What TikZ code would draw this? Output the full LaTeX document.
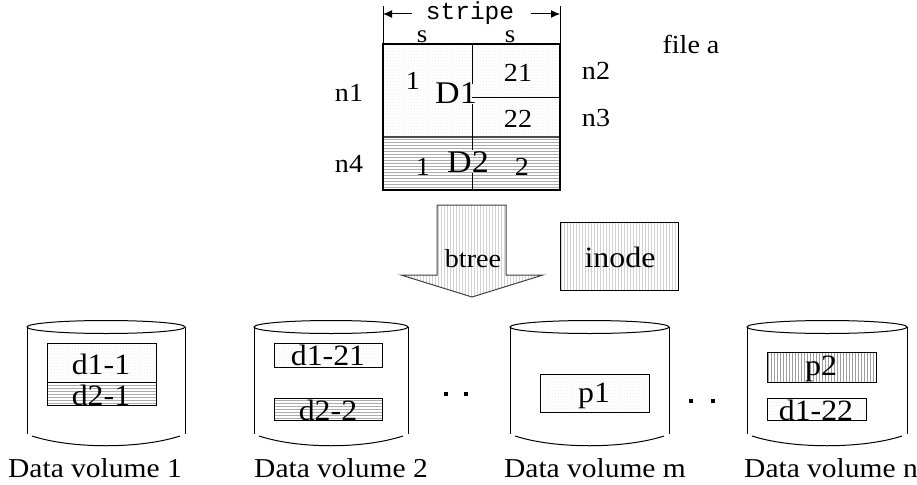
\documentclass[tikz,border=0pt]{standalone}
\usepackage{fontspec}
\setmainfont{Liberation Serif}[FakeStretch=1.08]
\setmonofont{Liberation Mono}
\usetikzlibrary{patterns,arrows.meta}

\pgfdeclarepatternformonly{fdots}{\pgfqpoint{-1pt}{-1pt}}{\pgfqpoint{2pt}{2pt}}{\pgfqpoint{3pt}{3pt}}%
{\pgfpathrectangle{\pgfqpoint{0pt}{0pt}}{\pgfqpoint{0.9pt}{0.9pt}}\pgfusepath{fill}}
\pgfdeclarepatternformonly{fhlines}{\pgfqpoint{-1pt}{-1pt}}{\pgfqpoint{4pt}{4pt}}{\pgfqpoint{3pt}{3pt}}%
{\pgfsetlinewidth{0.9pt}\pgfpathmoveto{\pgfqpoint{-1pt}{0pt}}\pgfpathlineto{\pgfqpoint{4pt}{0pt}}\pgfusepath{stroke}}
\pgfdeclarepatternformonly{fvlines}{\pgfqpoint{-1pt}{-1pt}}{\pgfqpoint{4pt}{4pt}}{\pgfqpoint{3pt}{3pt}}%
{\pgfsetlinewidth{0.9pt}\pgfpathmoveto{\pgfqpoint{0pt}{-1pt}}\pgfpathlineto{\pgfqpoint{0pt}{4pt}}\pgfusepath{stroke}}

\newcommand\drawdatavol[2]{%
  \pgfmathsetmacro\cylcx{(#1+#2)/2}%
  \pgfmathsetmacro\cylrx{(#2-#1)/2}%
  \draw[cylline] (\cylcx,327) ellipse [x radius=\cylrx, y radius=6.5];
  \draw[cylline] (#1,327) -- (#1,434);
  \draw[cylline] (#2,327) -- (#2,434);
  \draw[cylline] (#1+5,436) .. controls (#1+45,449) and (#2-45,449) .. (#2-5,436);
}

\tikzset{
  dotfill/.style={pattern=fdots, pattern color=gray!75},
  hfill/.style={pattern=fhlines, pattern color=gray!65},
  vlightfill/.style={pattern=fvlines, pattern color=gray!35},
  vdarkfill/.style={pattern=fvlines, pattern color=gray!75},
  boxline/.style={draw=black, line width=1.1pt},
  cylline/.style={draw=black, line width=1pt},
  lbl/.style={anchor=base, inner sep=0pt, font=\fontsize{26}{28}\selectfont},
  biglbl/.style={anchor=base, inner sep=0pt, font=\fontsize{31.5}{33}\selectfont},
  midlbl/.style={anchor=base, inner sep=0pt, font=\fontsize{29.5}{31}\selectfont},
  vollbl/.style={anchor=base, inner sep=0pt, font=\fontsize{27.3}{29}\selectfont},
  dotmark/.style={fill=black, inner sep=0pt, minimum size=3.2pt, rectangle},
}

\begin{document}
\begin{tikzpicture}[x=1pt, y=-1pt]
\useasboundingbox (0,0) rectangle (917,484);

% ---------- file a block ----------
\path[dotfill] (383,44) rectangle (560,137);
\path[hfill] (383,137) rectangle (560,190);
\draw[line width=2pt, gray!60!black] (383,137) -- (560,137);
\draw[boxline] (383,44) rectangle (560,190);
\draw[line width=1pt] (472,44) -- (472,84);
\draw[line width=1pt] (472,104) -- (472,150);
\draw[line width=1pt] (472,173) -- (472,190);
\draw[line width=1pt] (472,98) -- (560,98);

% stripe dimension
\draw[line width=1pt] (383,6) -- (383,44);
\draw[line width=1pt] (560,6) -- (560,44);
\coordinate (sl) at (383,14);
\coordinate (sr) at (560,14);
\node[anchor=base, inner sep=0pt, font=\ttfamily\fontsize{24.5}{26}\selectfont] (stripe) at (470,20) {stripe};
\draw[line width=1pt, -{Latex[length=9pt, width=8pt]}] (412,14) -- (sl);
\draw[line width=1pt, -{Latex[length=9pt, width=8pt]}] (531,14) -- (sr);
\node[anchor=base, inner sep=0pt, font=\fontsize{25}{27}\selectfont] (s1) at (422,43) {s};
\node[anchor=base, inner sep=0pt, font=\fontsize{25}{27}\selectfont] (s2) at (510,43) {s};

\node[lbl] (one1) at (413,90) {1};
\node[biglbl] (D1) at (456,103) {D1};
\node[lbl] (t21) at (518,82) {21};
\node[lbl] (t22) at (518,128) {22};
\node[lbl] (n2) at (596,80) {n2};
\node[lbl] (n3) at (596,126) {n3};
\node[lbl] (n1) at (349,102) {n1};
\node[lbl] (n4) at (349,172) {n4};
\node[lbl] (one2) at (423,175) {1};
\node[biglbl] (D2) at (468,172) {D2};
\node[lbl] (two2) at (522,175) {2};
\node[lbl] (filea) at (691,54) {file a};

% ---------- btree arrow and inode ----------
\draw[vlightfill, draw=gray!50!black, line width=1pt]
  (437,205) -- (506,205) -- (506,275) -- (543,275) -- (472,297) -- (401,275) -- (437,275) -- cycle;
\node[lbl] (btree) at (473,267) {btree};
\draw[vlightfill, draw=black, line width=1pt] (560,222) rectangle (678,290);
\node[midlbl] (inode) at (620,267) {inode};

% ---------- data volumes ----------
\drawdatavol{27}{185}
\drawdatavol{254}{408}
\drawdatavol{510}{669}
\drawdatavol{747}{907}

% volume 1
\path[dotfill] (47,343) rectangle (156,382);
\path[hfill] (47,382) rectangle (156,405);
\draw[line width=0.9pt] (47,343) rectangle (156,405);
\draw[line width=0.9pt] (47,382) -- (156,382);
\node[midlbl] (d11) at (101,374) {d1-1};
\node[midlbl] (d21) at (101,405) {d2-1};

% volume 2
\draw[dotfill, draw=black, line width=0.9pt] (274,343) rectangle (382,367);
\node[midlbl] (d121) at (328,365) {d1-21};
\draw[hfill, draw=black, line width=0.9pt] (274,398) rectangle (382,420);
\node[midlbl] (d22) at (328,420) {d2-2};

% volume m
\draw[dotfill, draw=black, line width=0.9pt] (540,374) rectangle (649,412);
\node[midlbl] (p1) at (594,402) {p1};

% volume n
\draw[vdarkfill, draw=black, line width=0.9pt] (767,352) rectangle (876,382);
\node[midlbl] (p2) at (821,375) {p2};
\draw[dotfill, draw=black, line width=0.9pt] (767,398) rectangle (866,420);
\node[midlbl] (d122) at (816,420) {d1-22};

% dots
\node[dotmark] (dA) at (446,394) {};
\node[dotmark] (dB) at (466,394) {};
\node[dotmark] (dC) at (691,401) {};
\node[dotmark] (dD) at (713,401) {};

% volume labels
\node[vollbl] (v1) at (95,477) {Data volume 1};
\node[vollbl] (v2) at (341,477) {Data volume 2};
\node[vollbl] (vm) at (595,477) {Data volume m};
\node[vollbl] (vn) at (831,477) {Data volume n};
\end{tikzpicture}
\end{document}
